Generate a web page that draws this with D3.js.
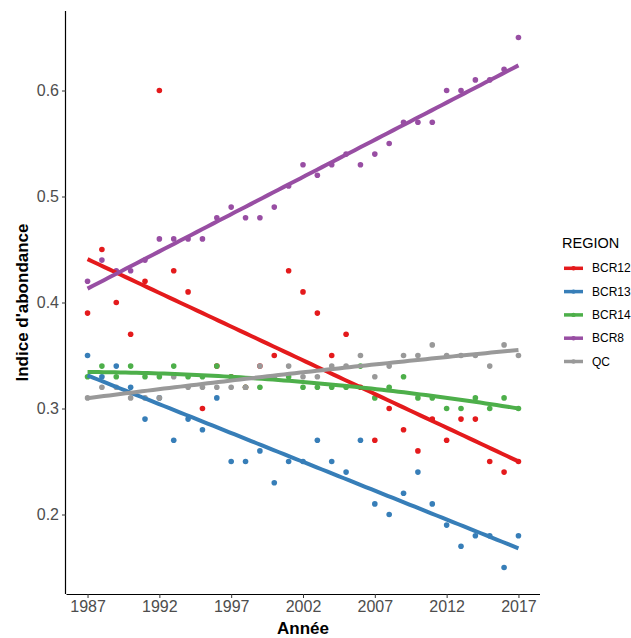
<!DOCTYPE html>
<html>
<head>
<meta charset="utf-8">
<script src="https://cdnjs.cloudflare.com/ajax/libs/d3/7.8.5/d3.min.js"></script>
<style>
  body { margin: 0; background: #fff; }
  text { font-family: "Liberation Sans", Arial, sans-serif; }
</style>
</head>
<body>
<div class="chart"></div>
<script>
// Abundance index by region, 1987-2017

var years = [1987, 1988, 1989, 1990, 1991, 1992, 1993, 1994, 1995, 1996,
  1997, 1998, 1999, 2000, 2001, 2002, 2003, 2004, 2005, 2006,
  2007, 2008, 2009, 2010, 2011, 2012, 2013, 2014, 2015, 2016, 2017];

var regions = ["BCR12", "BCR13", "BCR14", "BCR8", "QC"];

var bcr12 = [0.39, 0.45, 0.40, 0.37, 0.42, 0.60, 0.43, 0.41, 0.30, 0.34,
  0.33, 0.32, 0.34, 0.35, 0.43, 0.41, 0.39, 0.35, 0.37, 0.32,
  0.27, 0.30, 0.28, 0.26, 0.29, 0.27, 0.29, 0.29, 0.25, 0.24, 0.25];

var bcr13 = [0.35, 0.33, 0.34, 0.32, 0.29, 0.31, 0.27, 0.29, 0.28, 0.31,
  0.25, 0.25, 0.26, 0.23, 0.25, 0.25, 0.27, 0.25, 0.24, 0.27,
  0.21, 0.20, 0.22, 0.24, 0.21, 0.19, 0.17, 0.18, 0.18, 0.15, 0.18];

var bcr14 = [0.33, 0.34, 0.33, 0.34, 0.33, 0.33, 0.34, 0.33, 0.33, 0.34,
  0.33, 0.32, 0.32, 0.33, 0.33, 0.32, 0.32, 0.32, 0.32, 0.34,
  0.31, 0.32, 0.33, 0.31, 0.31, 0.30, 0.30, 0.31, 0.30, 0.31, 0.30];

var bcr8 = [0.42, 0.44, 0.43, 0.43, 0.44, 0.46, 0.46, 0.46, 0.46, 0.48,
  0.49, 0.48, 0.48, 0.49, 0.51, 0.53, 0.52, 0.53, 0.54, 0.53,
  0.54, 0.55, 0.57, 0.57, 0.57, 0.60, 0.60, 0.61, 0.61, 0.62, 0.65];

var qc = [0.31, 0.32, 0.32, 0.31, 0.31, 0.31, 0.33, 0.32, 0.32, 0.32,
  0.32, 0.32, 0.34, 0.33, 0.34, 0.33, 0.33, 0.34, 0.34, 0.35,
  0.33, 0.34, 0.35, 0.35, 0.36, 0.35, 0.35, 0.35, 0.34, 0.36, 0.35];

var seriesValues = [bcr12, bcr13, bcr14, bcr8, qc];
var colors = ["#E41A1C", "#377EB8", "#4DAF4A", "#984EA3", "#999999"];
// polynomial degree of the smooth for each region
var fitDegree = [1, 1, 2, 1, 2];

var xTicks = [1987, 1992, 1997, 2002, 2007, 2012, 2017];
var yTicks = [0.2, 0.3, 0.4, 0.5, 0.6];

var svgWidth = 631;
var svgHeight = 638;
var margin = { top: 11, right: 91, bottom: 44, left: 66 };
var width = svgWidth - margin.left - margin.right;
var height = svgHeight - margin.top - margin.bottom;

var svg = d3.select(".chart")
  .append("svg")
  .attr("width", svgWidth)
  .attr("height", svgHeight);

var chartGroup = svg.append("g")
  .attr("transform", `translate(${margin.left}, ${margin.top})`);

// ggplot-style 5% expansion of the data range
var xMin = d3.min(years), xMax = d3.max(years);
var xPad = (xMax - xMin) * 0.05;
var allVals = d3.merge(seriesValues);
var yMin = d3.min(allVals), yMax = d3.max(allVals);
var yPad = (yMax - yMin) * 0.05;

var xLinearScale = d3.scaleLinear()
  .domain([xMin - xPad, xMax + xPad])
  .range([0, width]);

var yLinearScale = d3.scaleLinear()
  .domain([yMin - yPad, yMax + yPad])
  .range([height, 0]);

// least squares polynomial fit, returns a function of x
function polyFit(xs, ys, degree) {
  var xc = d3.mean(xs);
  var m = degree + 1;
  var A = [];
  for (var r = 0; r < m; r++) {
    A.push([]);
    for (var c = 0; c <= m; c++) A[r].push(0);
  }
  xs.forEach(function(x, i) {
    var dx = x - xc;
    for (var r = 0; r < m; r++) {
      for (var c = 0; c < m; c++) A[r][c] += Math.pow(dx, r + c);
      A[r][m] += Math.pow(dx, r) * ys[i];
    }
  });
  for (var c = 0; c < m; c++) {
    for (var r = c + 1; r < m; r++) {
      var f = A[r][c] / A[c][c];
      for (var k = c; k <= m; k++) A[r][k] -= f * A[c][k];
    }
  }
  var b = new Array(m).fill(0);
  for (var r = m - 1; r >= 0; r--) {
    var sum = A[r][m];
    for (var k = r + 1; k < m; k++) sum -= A[r][k] * b[k];
    b[r] = sum / A[r][r];
  }
  return function(x) {
    var dx = x - xc;
    return b.reduce((acc, coef, k) => acc + coef * Math.pow(dx, k), 0);
  };
}

// Axes
var bottomAxis = d3.axisBottom(xLinearScale)
  .tickValues(xTicks)
  .tickFormat(d3.format("d"))
  .tickSize(4)
  .tickPadding(3);

var leftAxis = d3.axisLeft(yLinearScale)
  .tickValues(yTicks)
  .tickFormat(d3.format(".1f"))
  .tickSize(4)
  .tickPadding(3);

var xAxis = chartGroup.append("g")
  .attr("transform", `translate(0, ${height})`)
  .call(bottomAxis);

var yAxis = chartGroup.append("g")
  .call(leftAxis);

[xAxis, yAxis].forEach(function(ax) {
  ax.select(".domain").attr("stroke", "#000").attr("stroke-width", 1.2);
  ax.selectAll(".tick line").attr("stroke", "#333");
  ax.selectAll(".tick text")
    .attr("fill", "#4D4D4D")
    .style("font-size", "16px");
});
xAxis.select(".domain").attr("d", `M0.5,0.5H${width}`);
yAxis.select(".domain").attr("d", `M-0.5,0V${height}`);

// Points, drawn in factor order
regions.forEach(function(region, i) {
  chartGroup.append("g")
    .selectAll("circle")
    .data(years)
    .enter()
    .append("circle")
    .attr("cx", d => xLinearScale(d))
    .attr("cy", (d, j) => yLinearScale(seriesValues[i][j]))
    .attr("r", 2.8)
    .attr("fill", colors[i]);
});

// Smooth lines
var line = d3.line()
  .x(d => xLinearScale(d[0]))
  .y(d => yLinearScale(d[1]));

var gridX = d3.range(0, 80).map(k => xMin + (xMax - xMin) * k / 79);

regions.forEach(function(region, i) {
  var fit = polyFit(years, seriesValues[i], fitDegree[i]);
  chartGroup.append("path")
    .datum(gridX.map(x => [x, fit(x)]))
    .attr("d", line)
    .attr("fill", "none")
    .attr("stroke", colors[i])
    .attr("stroke-width", 4);
});

// Axis titles
svg.append("text")
  .attr("x", margin.left + width / 2)
  .attr("y", 634)
  .attr("text-anchor", "middle")
  .style("font-size", "17px")
  .style("font-weight", "bold")
  .text("Année");

svg.append("text")
  .attr("transform", `translate(28, ${margin.top + height / 2}) rotate(-90)`)
  .attr("text-anchor", "middle")
  .style("font-size", "17px")
  .style("font-weight", "bold")
  .text("Indice d'abondance");

// Legend
var legend = svg.append("g")
  .attr("transform", "translate(562, 248)");

legend.append("text")
  .attr("x", 0)
  .attr("y", 0)
  .style("font-size", "14.5px")
  .text("REGION");

regions.forEach(function(region, i) {
  var row = legend.append("g")
    .attr("transform", `translate(0, ${20.3 + i * 23.3})`);
  row.append("line")
    .attr("x1", 2).attr("x2", 21)
    .attr("y1", 0).attr("y2", 0)
    .attr("stroke", colors[i])
    .attr("stroke-width", 3.5);
  row.append("circle")
    .attr("cx", 11.5).attr("cy", 0)
    .attr("r", 2.2)
    .attr("fill", colors[i]);
  row.append("text")
    .attr("x", 30)
    .attr("y", 4)
    .style("font-size", "12px")
    .text(region);
});
</script>
</body>
</html>
